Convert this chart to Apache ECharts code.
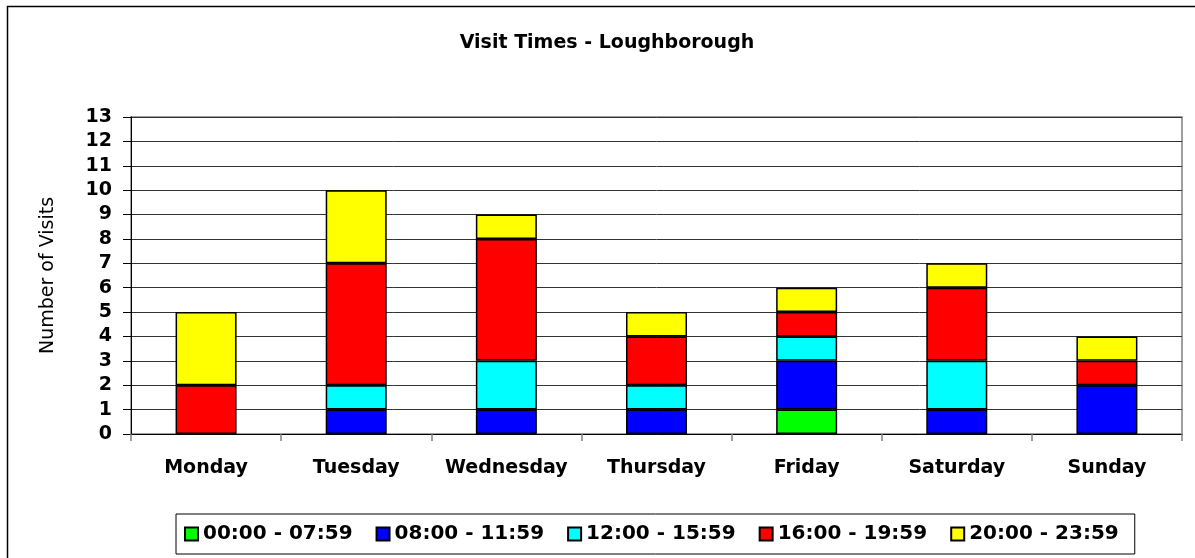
<!DOCTYPE html>
<html>
<head>
<meta charset="utf-8">
<title>Visit Times - Loughborough</title>
<script src="https://cdn.jsdelivr.net/npm/echarts@6/dist/echarts.min.js"></script>
<style>
  html, body { margin: 0; padding: 0; background: #fff; }
  #chart { width: 1195px; height: 558px; }
</style>
</head>
<body>
<div id="chart"></div>
<script>
// data
const days = ['Monday', 'Tuesday', 'Wednesday', 'Thursday', 'Friday', 'Saturday', 'Sunday']
const slotNames = ['00:00 - 07:59', '08:00 - 11:59', '12:00 - 15:59', '16:00 - 19:59', '20:00 - 23:59']
const slotColors = ['#00ff00', '#0000ff', '#00ffff', '#ff0000', '#ffff00']
const night = [0, 0, 0, 0, 1, 0, 0]
const morning = [0, 1, 1, 1, 2, 1, 2]
const afternoon = [0, 1, 2, 1, 1, 2, 0]
const evening = [2, 5, 5, 2, 1, 3, 1]
const late = [3, 3, 1, 1, 1, 1, 1]
const yTicks = { min: 0, max: 13, step: 1 }

const slotValues = [night, morning, afternoon, evening, late]
const FONT = 'DejaVu Sans'

const chart = echarts.init(document.getElementById('chart'))

const series = slotNames.map((name, i) => ({
  name: name,
  type: 'bar',
  stack: 'visits',
  barWidth: 61,
  // zero slots are left out so no empty outline is drawn
  data: slotValues[i].map(v => (v === 0 ? '-' : v)),
  itemStyle: {
    color: slotColors[i],
    borderColor: '#000',
    borderWidth: 1.5
  },
  emphasis: { disabled: true }
}))

chart.setOption({
  animation: false,
  textStyle: { fontFamily: FONT },
  title: {
    text: 'Visit Times - Loughborough',
    left: 602,
    textAlign: 'center',
    top: 29,
    textStyle: { fontFamily: FONT, fontSize: 19, fontWeight: 'bold', color: '#000' }
  },
  graphic: [{
    type: 'rect',
    shape: { x: 7.5, y: 6.5, width: 1200, height: 560 },
    style: { fill: 'none', stroke: '#000', lineWidth: 1.5 },
    silent: true
  }],
  legend: {
    left: 176,
    top: 514,
    padding: [10, 16, 10, 8],
    itemGap: 23,
    itemWidth: 13,
    itemHeight: 13,
    borderColor: '#000',
    borderWidth: 1,
    icon: 'rect',
    data: slotNames,
    textStyle: { fontFamily: FONT, fontSize: 20, fontWeight: 'bold', color: '#000' },
    selectedMode: false
  },
  grid: {
    left: 131,
    right: 13,
    top: 117,
    bottom: 124,
    show: true,
    borderColor: '#808080',
    borderWidth: 1.5,
    containLabel: false
  },
  xAxis: {
    type: 'category',
    data: days,
    axisLine: { lineStyle: { color: '#000', width: 1 } },
    axisTick: { show: true, length: 7, lineStyle: { color: '#808080', width: 1.5 } },
    axisLabel: {
      interval: 0,
      margin: 25,
      fontFamily: FONT,
      fontSize: 19,
      fontWeight: 'bold',
      color: '#000'
    }
  },
  yAxis: {
    type: 'value',
    min: yTicks.min,
    max: yTicks.max,
    interval: yTicks.step,
    name: 'Number of Visits',
    nameLocation: 'middle',
    nameGap: 73,
    nameTextStyle: { fontFamily: FONT, fontSize: 19, color: '#000' },
    axisLine: { show: true, lineStyle: { color: '#000', width: 1 } },
    axisTick: { show: true, length: 8, lineStyle: { color: '#000' } },
    axisLabel: {
      margin: 19,
      fontFamily: FONT,
      fontSize: 19,
      fontWeight: 'bold',
      color: '#000'
    },
    splitLine: { show: true, lineStyle: { color: '#333', width: 1 } }
  },
  series: series
})
</script>
</body>
</html>
